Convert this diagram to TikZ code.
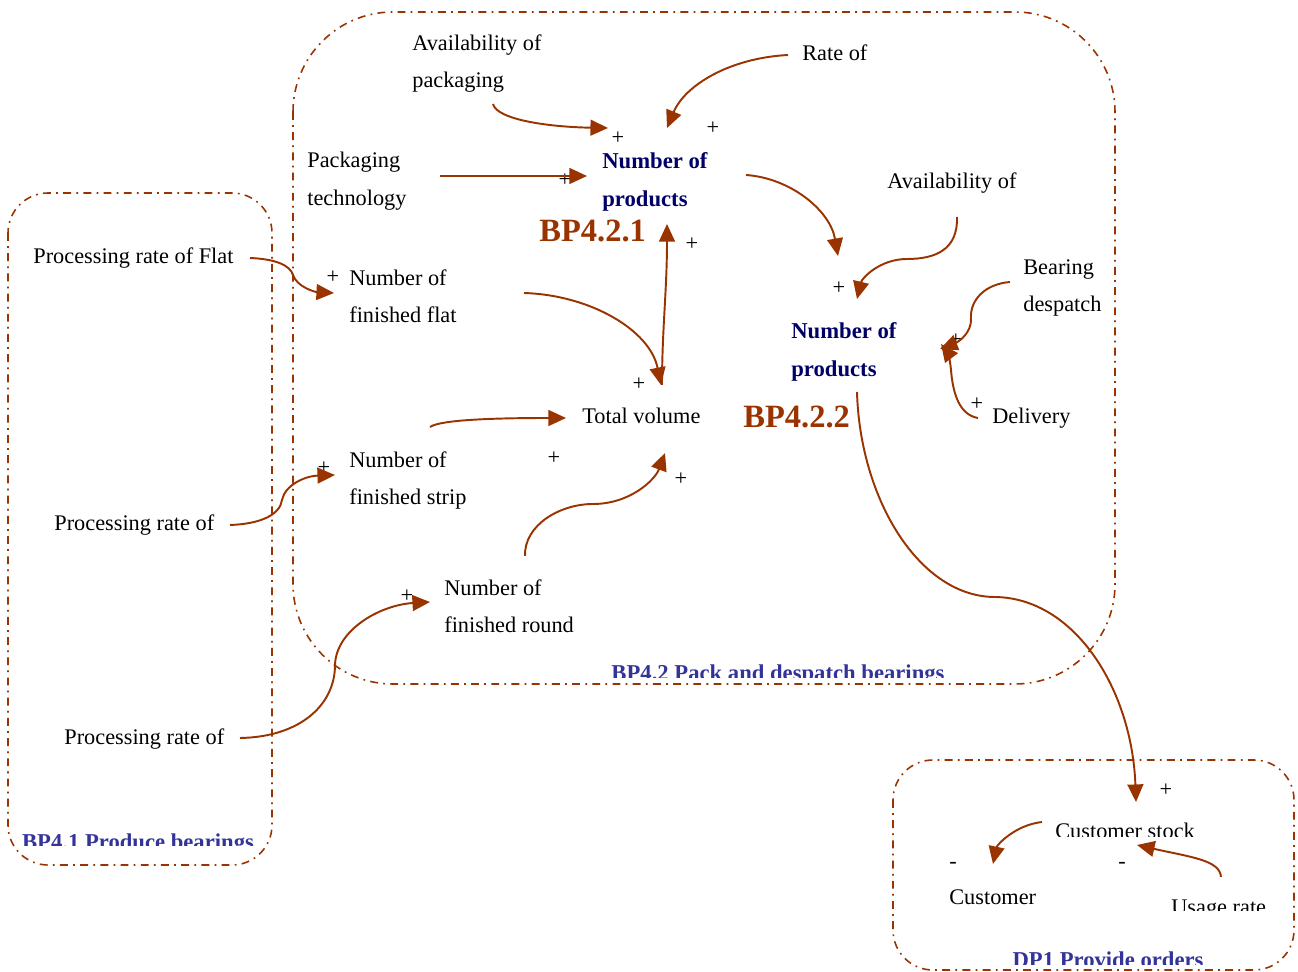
\documentclass[tikz,border=0pt]{standalone}
\usepackage{fontspec}
\setmainfont{Liberation Serif}
\usetikzlibrary{arrows.meta, positioning, calc}
\definecolor{rust}{RGB}{153,51,0}
\definecolor{zoneblue}{RGB}{51,51,153}
\definecolor{navy}{RGB}{0,0,102}

\begin{document}
\begin{tikzpicture}[x=0.02cm, y=-0.02cm,
	txt/.style={inner sep=0pt, font=\fontsize{12.7}{21.5}\selectfont, align=left},
	stock/.style={inner sep=0pt, font=\fontsize{12.9}{21.5}\selectfont\bfseries, text=navy, align=left},
	code/.style={inner sep=0pt, font=\fontsize{18.5}{22}\selectfont\bfseries, text=rust},
	zonename/.style={inner sep=0pt, font=\fontsize{12.9}{15}\selectfont\bfseries, text=zoneblue},
	sgn/.style={inner sep=0pt, font=\fontsize{12.7}{15}\selectfont},
	link/.style={draw=rust, line width=1.1pt, -{Triangle[length=10pt,width=9pt]}},
	zone/.style={draw=rust, line width=0.9pt, dash pattern=on 4.5pt off 3pt on 1pt off 3pt}]
	\useasboundingbox (0,0) rectangle (1298,972);

	% process boundaries
	\draw[zone, rounded corners=2cm] (293,12) rectangle (1115,684);
	\draw[zone, rounded corners=0.8cm] (8,193) rectangle (272,865);
	\draw[zone, rounded corners=0.8cm] (893,760) rectangle (1294,970);

	% process names (cut by their frames)
	\begin{scope}
		\clip (590,640) rectangle (970,677);
		\node[zonename, anchor=base] (bp42) at (778,681) {BP4.2 Pack and despatch bearings};
	\end{scope}
	\begin{scope}
		\clip (10,815) rectangle (270,845);
		\node[zonename, anchor=base] (bp41) at (138,849) {BP4.1 Produce bearings};
	\end{scope}
	\begin{scope}
		\clip (990,935) rectangle (1230,964);
		\node[zonename, anchor=base] (dp1) at (1108,967) {DP1 Provide orders};
	\end{scope}

	% BP4.2 variables
	\node[txt, anchor=north west] (avpack) at (412,34) {Availability of\\packaging};
	\node[txt, anchor=base west] (rate) at (802,61) {Rate of};
	\node[txt, anchor=north west] (packtech) at (307,152) {Packaging\\technology};
	\node[stock, anchor=north west] (prod1) at (602,152) {Number of\\products};
	\node[code, anchor=base west] (bp421) at (539,242) {BP4.2.1};
	\node[txt, anchor=north west] (finflat) at (349,269) {Number of\\finished flat};
	\node[txt, anchor=base west] (avail) at (887,189) {Availability of};
	\node[txt, anchor=north west] (bearing) at (1023,259) {Bearing\\despatch};
	\node[stock, anchor=north west] (prod2) at (791,322) {Number of\\products};
	\node[code, anchor=base west] (bp422) at (743,428) {BP4.2.2};
	\node[txt, anchor=base west] (delivery) at (992,424) {Delivery};
	\node[txt, anchor=base west] (total) at (582,424) {Total volume};
	\node[txt, anchor=north west] (finstrip) at (349,451) {Number of\\finished strip};
	\node[txt, anchor=north west] (finround) at (444,579) {Number of\\finished round};

	% BP4.1 variables
	\node[txt, anchor=base west] (procflat) at (33,264) {Processing rate of Flat};
	\node[txt, anchor=base west] (procstrip) at (54,531) {Processing rate of};
	\node[txt, anchor=base west] (procround) at (64,744) {Processing rate of};

	% DP1 variables
	\begin{scope}
		\clip (1045,810) rectangle (1210,836);
		\node[txt, anchor=base west] (custstock) at (1055,838) {Customer stock};
	\end{scope}
	\node[txt, anchor=base west] (customer) at (949,904) {Customer};
	\begin{scope}
		\clip (1160,890) rectangle (1280,910);
		\node[txt, anchor=base west] (usage) at (1171,914) {Usage rate};
	\end{scope}

	% polarities
	\foreach \px/\py [count=\i] in {618/138, 713/128, 565/180, 692/244, 333/277, 839/288, 956/340,
		977/404, 639/384, 554/458, 681/479, 324/468, 407/596, 1166/790}
		\node[sgn] (plus\i) at (\px,\py) {+};
	\node[sgn] (minus1) at (953,865) {-};
	\node[sgn] (minus2) at (1122,865) {-};

	% arrow ends
	\coordinate (avpack-o) at (493,104);
	\coordinate (rate-o) at (788,55);
	\coordinate (packtech-o) at (440,176);
	\coordinate (prod1-o) at (746,175);
	\coordinate (prod1-a) at (608,128);
	\coordinate (prod1-b) at (667,128);
	\coordinate (prod1-c) at (587,176);
	\coordinate (prod1-d) at (667,224);
	\coordinate (avail-o) at (957,217);
	\coordinate (bearing-o) at (1010,282);
	\coordinate (delivery-o) at (978,418);
	\coordinate (prod2-a) at (838,256);
	\coordinate (prod2-b) at (857,299);
	\coordinate (prod2-c) at (940,349);
	\coordinate (prod2-d) at (941,344);
	\coordinate (prod2-o) at (857,392);
	\coordinate (finflat-o) at (524,293);
	\coordinate (finflat-a) at (334,293);
	\coordinate (finstrip-o) at (430,427);
	\coordinate (finstrip-a) at (335,475);
	\coordinate (finround-o) at (525,556);
	\coordinate (finround-a) at (430,602);
	\coordinate (total-o) at (662,385);
	\coordinate (total-a) at (661,385);
	\coordinate (total-b) at (566,418);
	\coordinate (total-c) at (665,453);
	\coordinate (procflat-o) at (250,258);
	\coordinate (procstrip-o) at (230,525);
	\coordinate (procround-o) at (240,738);
	\coordinate (custstock-a) at (1136,802);
	\coordinate (custstock-o) at (1042,822);
	\coordinate (custstock-b) at (1137,845);
	\coordinate (customer-a) at (993,864);
	\coordinate (usage-o) at (1221,877);

	% links
	\draw[link] (avpack-o) .. controls (497,120) and (550,127) .. (prod1-a);
	\draw[link] (rate-o) .. controls (730,58) and (685,85) .. (prod1-b);
	\draw[link] (packtech-o) -- (prod1-c);
	\draw[link] (prod1-o) .. controls (790,178) and (830,210) .. (prod2-a);
	\draw[link] (avail-o) .. controls (958,250) and (935,259) .. (907,259)
		.. controls (880,259) and (862,278) .. (prod2-b);
	\draw[link] (bearing-o) .. controls (985,284) and (970,300) .. (971,318)
		.. controls (972,333) and (958,342) .. (prod2-c);
	\draw[link] (delivery-o) .. controls (960,415) and (953,395) .. (951,370)
		.. controls (950,358) and (947,352) .. (prod2-d);
	\draw[link] (finflat-o) .. controls (590,295) and (650,330) .. (total-a);
	\draw[link] (total-o) .. controls (662,330) and (667,290) .. (prod1-d);
	\draw[link] (procflat-o) .. controls (275,259) and (290,265) .. (293,275)
		.. controls (297,287) and (315,292) .. (finflat-a);
	\draw[link] (finstrip-o) .. controls (440,420) and (490,418) .. (total-b);
	\draw[link] (procstrip-o) .. controls (260,524) and (280,515) .. (282,500)
		.. controls (285,485) and (305,476) .. (finstrip-a);
	\draw[link] (finround-o) .. controls (524,525) and (560,504) .. (593,504)
		.. controls (630,504) and (655,480) .. (total-c);
	\draw[link] (procround-o) .. controls (300,737) and (335,705) .. (335,665)
		.. controls (336,630) and (380,605) .. (finround-a);
	\draw[link] (prod2-o) .. controls (860,500) and (920,597) .. (995,597)
		.. controls (1075,598) and (1132,690) .. (custstock-a);
	\draw[link] (custstock-o) .. controls (1015,825) and (997,845) .. (customer-a);
	\draw[link] (usage-o) .. controls (1220,860) and (1190,857) .. (custstock-b);
\end{tikzpicture}
\end{document}
